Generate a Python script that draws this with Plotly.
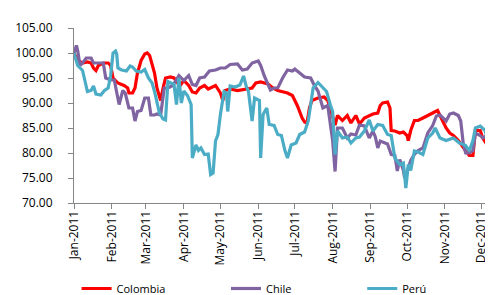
import plotly.graph_objects as go

colombia_dates = ["2011-01-01","2011-01-04","2011-01-08","2011-01-12","2011-01-15","2011-01-17","2011-01-19","2011-01-21","2011-01-25","2011-01-29","2011-01-31",
"2011-02-02","2011-02-04","2011-02-06","2011-02-08","2011-02-11","2011-02-14","2011-02-15","2011-02-18","2011-02-20","2011-02-22","2011-02-25","2011-02-28",
"2011-03-02","2011-03-04","2011-03-06","2011-03-08","2011-03-10","2011-03-12","2011-03-13","2011-03-15","2011-03-17","2011-03-21","2011-03-24","2011-03-27","2011-03-29",
"2011-04-01","2011-04-05","2011-04-08","2011-04-11","2011-04-14","2011-04-18","2011-04-21","2011-04-25","2011-04-27",
"2011-05-01","2011-05-03","2011-05-05","2011-05-09","2011-05-15","2011-05-21","2011-05-27","2011-05-30",
"2011-06-03","2011-06-09","2011-06-13","2011-06-17","2011-06-21","2011-06-25","2011-06-29",
"2011-07-03","2011-07-07","2011-07-09","2011-07-11","2011-07-13","2011-07-15","2011-07-20","2011-07-25","2011-07-28","2011-07-30",
"2011-08-01","2011-08-03","2011-08-05","2011-08-09","2011-08-13","2011-08-16","2011-08-20","2011-08-23","2011-08-27","2011-08-31",
"2011-09-03","2011-09-07","2011-09-09","2011-09-11","2011-09-15","2011-09-17","2011-09-18","2011-09-21","2011-09-25","2011-09-28",
"2011-10-01","2011-10-02","2011-10-04","2011-10-07","2011-10-10","2011-10-14","2011-10-18","2011-10-22","2011-10-26","2011-10-28",
"2011-11-02","2011-11-05","2011-11-08","2011-11-12","2011-11-16","2011-11-18","2011-11-21","2011-11-24","2011-11-26","2011-11-30",
"2011-12-02","2011-12-06","2011-12-10","2011-12-12","2011-12-17"]
colombia_values = [100,98.5,98,98.2,98,97,96.5,97.5,98,98,97.5,
95,94.5,94,93.8,93.5,93,92,92,93,96,98.5,99.8,
100,99.5,97.5,96,93,91,90.5,93,95,95.2,95,94,93.5,
94.5,93.5,92.2,92,93,93.5,92.8,93.2,93.5,
92,90.5,92.5,92.8,92.5,92.8,93,94,
94.2,93.8,93,92.5,92.2,92,91.5,
89.5,87,86.2,86,89,90.5,91,91.2,90.5,89,
87,85.6,87.5,86.5,87.5,86,87.5,85.8,87,87.5,
87.8,88,89.5,90,90.2,89,84.5,84.4,84,84.2,
83.5,82.5,84.5,86.5,86.5,87,87.5,88,88.5,87.5,
85,84,83.5,82.5,81,80.5,79.5,79.5,84.5,84.5,
83,81.5,80.5,82.5,82.5]

chile_dates = ["2011-01-01","2011-01-03","2011-01-04","2011-01-06","2011-01-08","2011-01-11","2011-01-15","2011-01-17","2011-01-21","2011-01-25","2011-01-27","2011-01-31",
"2011-02-03","2011-02-05","2011-02-07","2011-02-10","2011-02-12","2011-02-15","2011-02-18","2011-02-20","2011-02-22","2011-02-25","2011-02-28",
"2011-03-03","2011-03-05","2011-03-08","2011-03-10","2011-03-13","2011-03-16","2011-03-19","2011-03-23","2011-03-28",
"2011-04-01","2011-04-05","2011-04-08","2011-04-11","2011-04-14","2011-04-18","2011-04-22","2011-04-27",
"2011-05-01","2011-05-05","2011-05-09","2011-05-15","2011-05-19","2011-05-23","2011-05-27",
"2011-06-01","2011-06-03","2011-06-06","2011-06-11","2011-06-14","2011-06-17","2011-06-21","2011-06-25","2011-06-29",
"2011-07-01","2011-07-05","2011-07-09","2011-07-14","2011-07-17","2011-07-20","2011-07-24","2011-07-28","2011-07-30",
"2011-08-01","2011-08-03","2011-08-05","2011-08-09","2011-08-13","2011-08-16","2011-08-20","2011-08-23","2011-08-27","2011-08-31",
"2011-09-03","2011-09-05","2011-09-07","2011-09-09","2011-09-15","2011-09-18","2011-09-21","2011-09-23","2011-09-25","2011-09-28","2011-09-29",
"2011-10-02","2011-10-04","2011-10-07","2011-10-10","2011-10-14","2011-10-18","2011-10-22","2011-10-25","2011-10-28",
"2011-11-02","2011-11-05","2011-11-08","2011-11-12","2011-11-14","2011-11-16","2011-11-18","2011-11-21","2011-11-24","2011-11-26","2011-11-30",
"2011-12-02","2011-12-06","2011-12-10","2011-12-14","2011-12-17"]
chile_values = [100,101.5,100.5,97.5,98,99,99,98,98,98,95,94.6,
94.6,92.4,89.7,92.5,92,89,89,86.4,88.3,88.5,91,
91,87.6,87.6,87.8,87.6,93,93,93.5,95.5,
94.5,95.5,93.7,93.5,95,95.2,96.4,96.6,
97,97,97.7,97.8,96.6,96.8,98,
98.4,97.5,95.4,92.6,93,93,95,96.6,96.4,
96.8,96,95.2,95,93.5,92.4,89,89.5,85.7,
82.5,76.3,85,85,83,83.8,83.6,85.6,85.4,83,
84.4,83.2,81,82.4,81.8,79.7,79.5,76.4,78.7,76.5,75,
77,78.5,79.7,80.5,81,84,85.5,87.4,87.6,
86.4,87.8,88,87.5,86.4,82,80,80,80.5,84,83.5,
83,83.6,84.4,84.4,84.7]

peru_dates = ["2011-01-01","2011-01-04","2011-01-08","2011-01-10","2011-01-12","2011-01-15","2011-01-17","2011-01-19","2011-01-23","2011-01-26","2011-01-29","2011-01-31",
"2011-02-02","2011-02-04","2011-02-05","2011-02-06","2011-02-09","2011-02-13","2011-02-16","2011-02-18","2011-02-21","2011-02-25","2011-02-28",
"2011-03-03","2011-03-06","2011-03-08","2011-03-12","2011-03-15","2011-03-17","2011-03-19","2011-03-22","2011-03-24","2011-03-26","2011-03-28","2011-03-30",
"2011-04-01","2011-04-04","2011-04-06","2011-04-07","2011-04-08","2011-04-11","2011-04-13","2011-04-15","2011-04-18","2011-04-21","2011-04-23","2011-04-25","2011-04-27","2011-04-29",
"2011-05-01","2011-05-04","2011-05-06","2011-05-07","2011-05-09","2011-05-13","2011-05-17","2011-05-20","2011-05-22","2011-05-24","2011-05-27","2011-05-29",
"2011-06-02","2011-06-03","2011-06-05","2011-06-08","2011-06-10","2011-06-14","2011-06-17","2011-06-20","2011-06-23","2011-06-25","2011-06-28",
"2011-07-02","2011-07-05","2011-07-09","2011-07-12","2011-07-14","2011-07-16","2011-07-20","2011-07-24","2011-07-27","2011-07-30",
"2011-08-01","2011-08-03","2011-08-05","2011-08-09","2011-08-13","2011-08-16","2011-08-20","2011-08-23","2011-08-27","2011-08-31",
"2011-09-03","2011-09-07","2011-09-11","2011-09-15","2011-09-18","2011-09-21","2011-09-25","2011-09-28","2011-09-30",
"2011-10-02","2011-10-04","2011-10-07","2011-10-10","2011-10-14","2011-10-18","2011-10-22","2011-10-24","2011-10-28",
"2011-11-02","2011-11-08","2011-11-13","2011-11-18","2011-11-21","2011-11-24","2011-11-26","2011-11-30",
"2011-12-04","2011-12-06","2011-12-10","2011-12-14","2011-12-17"]
peru_values = [100,97.5,96.5,94.7,92.3,92.5,93.4,91.8,91.6,92.5,93,95.4,
100,100.4,99.8,97,96.6,96.4,97.4,97.2,96.4,96.2,96.7,
95,94,92.3,88,86.8,86.6,94.3,94,93.7,89.7,95,90,
92.4,91.5,90,89.7,79,81.6,80.5,81,79.7,79.8,75.7,76,82.4,83.7,
87.7,92.3,92,88.3,93.4,93.2,93.6,95.4,93.5,92.3,86.4,91,
90.5,79,87.7,89,85.7,85.5,83.7,83.5,80.4,79,81.6,
82,83.7,84.2,86.4,90,93,94.1,93,92.3,89.7,
88.3,79.7,84.4,83,83.2,82,83,83.2,84.4,86.6,
84.4,85.7,85.5,83.7,83.5,79,77.7,78,73,
77.7,76.5,80.4,80.2,79.7,83,84,85,83,
82.5,83,82,81.5,80.4,82.5,85,85.4,
84.5,82.4,84.4,83,83]

month_ticks = ["2011-%02d-01" % m for m in range(1, 13)]
y_ticks = [70, 75, 80, 85, 90, 95, 100, 105]

FONT = "Open Sans"
fig = go.Figure()
fig.add_trace(go.Scatter(x=colombia_dates, y=colombia_values, mode="lines", name="Colombia",
                         line=dict(color="#FF0000", width=3.2), legend="legend"))
fig.add_trace(go.Scatter(x=chile_dates, y=chile_values, mode="lines", name="Chile",
                         line=dict(color="#8064A2", width=3.2), legend="legend2"))
fig.add_trace(go.Scatter(x=peru_dates, y=peru_values, mode="lines", name="Perú",
                         line=dict(color="#4BACC6", width=3.2), legend="legend3"))

leg = dict(orientation="h", yref="container", yanchor="bottom", y=0.0, xanchor="left",
           font=dict(family=FONT, size=11, color="#000000"), bgcolor="rgba(0,0,0,0)",
           borderwidth=0)
fig.update_layout(
    width=493, height=295,
    margin=dict(l=66, r=0, t=20, b=100, autoexpand=False),
    paper_bgcolor="white", plot_bgcolor="white",
    font=dict(family=FONT, size=12, color="#000000"),
    showlegend=True,
    legend=dict(leg, x=0.006),
    legend2=dict(leg, x=0.356),
    legend3=dict(leg, x=0.675),
    xaxis=dict(type="date", range=["2011-01-01", "2011-12-17"], tickvals=month_ticks,
               tickformat="%b-%Y", tickangle=-90, showgrid=False, zeroline=False,
               showline=True, linecolor="#868686", linewidth=1, ticks="outside",
               ticklen=5, tickcolor="#868686", tickfont=dict(family=FONT, size=12),
               ticklabelstandoff=-3, automargin=False),
    yaxis=dict(range=[70, 105], tickvals=y_ticks, tickformat=".2f", showgrid=False,
               zeroline=False, showline=True, linecolor="#868686", linewidth=1,
               ticks="outside", ticklen=5, tickcolor="#868686", ticklabelstandoff=13,
               tickfont=dict(family=FONT, size=12), automargin=False),
)
fig.write_html("out.html")
